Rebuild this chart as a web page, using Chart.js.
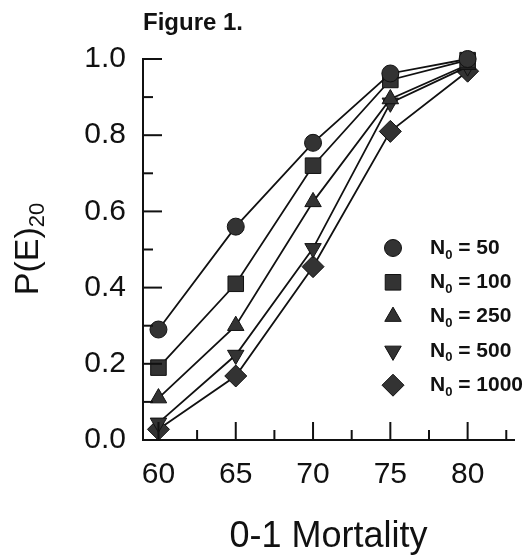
<!DOCTYPE html>
<html>
<head>
<meta charset="utf-8">
<title>Figure 1</title>
<script src="https://cdn.jsdelivr.net/npm/chart.js@4/dist/chart.umd.min.js"></script>
<style>
  html, body { margin: 0; padding: 0; background: #fff; }
  #wrap { width: 526px; height: 556px; }
</style>
</head>
<body>
<div id="wrap"><canvas id="chart" width="526" height="556"></canvas></div>
<script>
// data
const mortality = [60, 65, 70, 75, 80];
const popSizes = ["50", "100", "250", "500", "1000"];
const pe50 = [0.29, 0.56, 0.78, 0.962, 1.0];
const pe100 = [0.19, 0.41, 0.72, 0.945, 0.997];
const pe250 = [0.11, 0.30, 0.625, 0.895, 0.985];
const pe500 = [0.045, 0.223, 0.503, 0.885, 0.98];
const pe1000 = [0.028, 0.168, 0.455, 0.81, 0.968];
const markers = ["circle", "rect", "triangle", "triangle", "rectRot"];
const markerRot = [0, 0, 0, 180, 0];
const markerSize = [8.5, 11, 9.5, 9.5, 11];

const xTicks = [60, 65, 70, 75, 80];
const xMinorTicks = [62.5, 67.5, 72.5, 77.5, 82.5];
const yTicks = [0, 0.2, 0.4, 0.6, 0.8, 1.0];
const yMinorTicks = [0.1, 0.3, 0.5, 0.7, 0.9];

const allSeries = [pe50, pe100, pe250, pe500, pe1000];
const FONT = "'Liberation Sans', Arial, Helvetica, sans-serif";
const INK = "#111";

const datasets = allSeries.map((vals, i) => ({
  label: "N0 = " + popSizes[i],
  data: mortality.map((m, j) => ({ x: m, y: vals[j] })),
  borderColor: INK,
  borderWidth: 1.8,
  pointStyle: markers[i],
  rotation: markerRot[i],
  pointRadius: markerSize[i],
  pointBackgroundColor: "#333",
  pointBorderColor: INK,
  pointBorderWidth: 1,
  tension: 0,
  clip: false
}));

const decor = {
  id: "decor",
  afterDraw(chart) {
    const ctx = chart.ctx;
    const xs = chart.scales.x, ys = chart.scales.y;
    const area = chart.chartArea;
    ctx.save();
    ctx.strokeStyle = INK;
    ctx.lineWidth = 2;
    // inward tick marks
    const tick = (x1, y1, x2, y2) => {
      ctx.beginPath(); ctx.moveTo(x1, y1); ctx.lineTo(x2, y2); ctx.stroke();
    };
    xTicks.forEach(v => { const p = xs.getPixelForValue(v); tick(p, area.bottom, p, area.bottom - 18); });
    xMinorTicks.forEach(v => { const p = xs.getPixelForValue(v); tick(p, area.bottom, p, area.bottom - 10); });
    yTicks.forEach(v => { const p = ys.getPixelForValue(v); tick(area.left, p, area.left + 19, p); });
    yMinorTicks.forEach(v => { const p = ys.getPixelForValue(v); tick(area.left, p, area.left + 10, p); });

    ctx.fillStyle = INK;
    // figure label
    ctx.font = "bold 24px " + FONT;
    ctx.textAlign = "left";
    ctx.textBaseline = "alphabetic";
    ctx.fillText("Figure 1.", 143, 30);

    // x title
    ctx.font = "36px " + FONT;
    ctx.textAlign = "center";
    ctx.textBaseline = "middle";
    ctx.fillText("0-1 Mortality", (area.left + area.right) / 2, 537);

    // y title with subscript
    ctx.save();
    ctx.translate(38, 249);
    ctx.rotate(-Math.PI / 2);
    ctx.textAlign = "left";
    ctx.textBaseline = "alphabetic";
    const main = "P(E)";
    ctx.font = "34px " + FONT;
    const w1 = ctx.measureText(main).width;
    ctx.font = "22px " + FONT;
    const w2 = ctx.measureText("20").width;
    const start = -(w1 + w2) / 2;
    ctx.font = "34px " + FONT;
    ctx.fillText(main, start, 0);
    ctx.font = "22px " + FONT;
    ctx.fillText("20", start + w1, 6);
    ctx.restore();

    // legend
    const lx = 393, tx = 430, ly0 = 248, dy = 34.3;
    chart.data.datasets.forEach((ds, i) => {
      const y = ly0 + i * dy;
      ctx.fillStyle = "#333";
      ctx.strokeStyle = INK;
      ctx.lineWidth = 1;
      Chart.helpers.drawPoint(ctx, {
        pointStyle: ds.pointStyle, rotation: ds.rotation,
        radius: ds.pointRadius, borderWidth: 1
      }, lx, y);
      ctx.fillStyle = INK;
      ctx.textAlign = "left";
      ctx.textBaseline = "middle";
      ctx.font = "bold 21px " + FONT;
      ctx.fillText("N", tx, y);
      const wn = ctx.measureText("N").width;
      ctx.font = "bold 13px " + FONT;
      ctx.fillText("0", tx + wn, y + 7);
      const w0 = ctx.measureText("0").width;
      ctx.font = "bold 21px " + FONT;
      ctx.fillText(" = " + popSizes[i], tx + wn + w0, y);
    });
    ctx.restore();
  }
};

new Chart(document.getElementById("chart").getContext("2d"), {
  type: "line",
  data: { datasets },
  options: {
    responsive: false,
    animation: false,
    layout: { padding: { left: 0, right: 4, top: 59, bottom: 0 } },
    plugins: { legend: { display: false }, tooltip: { enabled: false } },
    scales: {
      x: {
        type: "linear",
        min: 59, max: 83,
        grid: { drawOnChartArea: false, drawTicks: false },
        border: { display: true, color: INK, width: 2 },
        afterBuildTicks: s => { s.ticks = xTicks.map(v => ({ value: v })); },
        afterFit: s => { s.height = 116; },
        ticks: { color: INK, font: { family: FONT, size: 30 }, padding: 17, maxRotation: 0 }
      },
      y: {
        min: 0, max: 1,
        grid: { drawOnChartArea: false, drawTicks: false },
        border: { display: true, color: INK, width: 2 },
        afterBuildTicks: s => { s.ticks = yTicks.map(v => ({ value: v })); },
        afterFit: s => { s.width = 143; },
        ticks: { color: INK, font: { family: FONT, size: 30 }, padding: 17,
                 callback: v => v.toFixed(1) }
      }
    }
  },
  plugins: [decor]
});
</script>
</body>
</html>
